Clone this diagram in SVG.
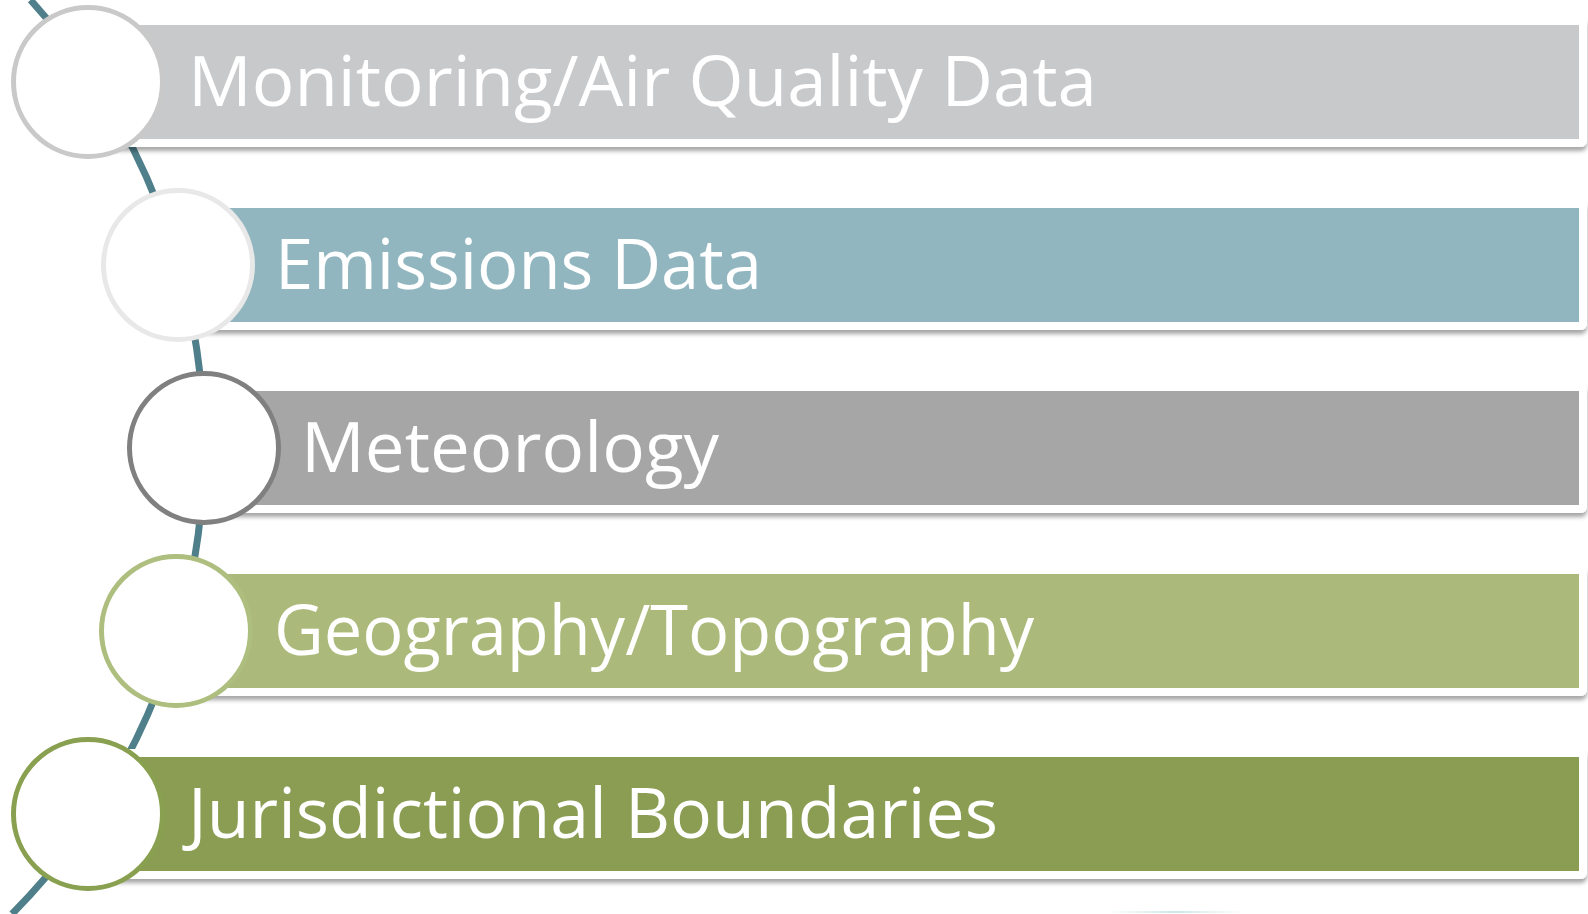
<svg xmlns="http://www.w3.org/2000/svg" width="1588" height="914" viewBox="0 0 1588 914">
  <defs>
    <filter id="shadow" x="-2%" y="-20%" width="104%" height="150%">
      <feDropShadow dx="0" dy="4" stdDeviation="2.2" flood-color="#000" flood-opacity="0.35"/>
    </filter>
    <linearGradient id="faint" x1="0" y1="0" x2="1" y2="0">
      <stop offset="0" stop-color="#9fd0d0" stop-opacity="0"/>
      <stop offset="0.5" stop-color="#9fd0d0" stop-opacity="0.5"/>
      <stop offset="1" stop-color="#9fd0d0" stop-opacity="0"/>
    </linearGradient>
  </defs>
  <style>
    .bar { stroke: #ffffff; stroke-width: 8; filter: url(#shadow); }
    .dot { fill: #ffffff; stroke-width: 5; }
    .label { font-family: "Open Sans", "Noto Sans", "Liberation Sans", sans-serif; font-size: 70px; fill: #ffffff; }
    .arc { fill: none; stroke: #4e7f8a; stroke-width: 7; }
  </style>
  <rect width="1588" height="914" fill="#ffffff"/>

  <g id="connectors">
    <path class="arc" d="M 30.5 0 A 663.5 663.5 0 0 1 12 914"/>
  </g>

  <rect x="1105" y="911" width="140" height="2" fill="url(#faint)"/>

  <g id="node-monitoring">
    <rect class="bar" x="88" y="21" width="1495" height="122" rx="2" fill="#c8c9cb"/>
    <circle class="dot" cx="88" cy="82" r="74.5" stroke="#c9c9c9"/>
    <text class="label" x="188" y="106" textLength="909" lengthAdjust="spacingAndGlyphs">Monitoring/Air Quality Data</text>
  </g>

  <g id="node-emissions">
    <rect class="bar" x="178" y="204" width="1405" height="122" rx="2" fill="#91b6bf"/>
    <circle class="dot" cx="178" cy="265" r="74.5" stroke="#e8e8e8"/>
    <text class="label" x="275" y="289" textLength="487" lengthAdjust="spacingAndGlyphs">Emissions Data</text>
  </g>

  <g id="node-meteorology">
    <rect class="bar" x="204" y="387" width="1379" height="122" rx="2" fill="#a6a6a6"/>
    <circle class="dot" cx="204" cy="448" r="74.5" stroke="#808080"/>
    <text class="label" x="301" y="472" textLength="418" lengthAdjust="spacingAndGlyphs">Meteorology</text>
  </g>

  <g id="node-geography">
    <rect class="bar" x="176" y="570" width="1407" height="122" rx="2" fill="#abba7a"/>
    <circle class="dot" cx="176" cy="631" r="74.5" stroke="#adbe7e"/>
    <text class="label" x="274" y="655" textLength="760" lengthAdjust="spacingAndGlyphs">Geography/Topography</text>
  </g>

  <g id="node-jurisdictional">
    <rect class="bar" x="88" y="753" width="1495" height="122" rx="2" fill="#8a9d52"/>
    <circle class="dot" cx="88" cy="814" r="74.5" stroke="#89a050"/>
    <text class="label" x="188" y="838" textLength="810" lengthAdjust="spacingAndGlyphs">Jurisdictional Boundaries</text>
  </g>
</svg>
